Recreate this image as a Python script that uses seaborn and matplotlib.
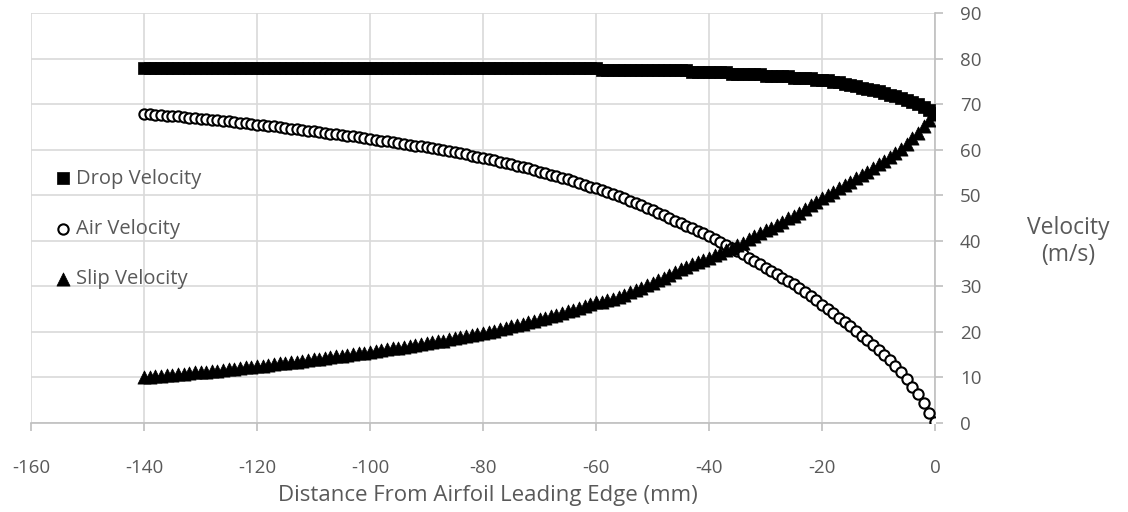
import numpy as np
import pandas as pd
import matplotlib
matplotlib.use("Agg")
import matplotlib.pyplot as plt
import seaborn as sns

# Distância ao bordo de ataque (mm), um ponto por milímetro
distance = np.arange(-140, 1)

drop_velocity = (
    [78.0] * 81 +                      # -140 .. -60
    [77.5] * 16 +                      # -59 .. -44
    [77.1] * 7 +                       # -43 .. -37
    [76.6] * 6 +                       # -36 .. -31
    [76.1] * 5 +                       # -30 .. -26
    [75.7] * 4 +                       # -25 .. -22
    [75.2] * 3 +                       # -21 .. -19
    [74.8] * 2 +                       # -18 .. -17
    [74.4, 74.2, 73.9, 73.6, 73.4, 73.1, 72.8, 72.5, 72.1, 71.8,
     71.4, 71.0, 70.5, 70.0, 69.4, 68.8, 68.1]   # -16 .. 0
)

air_velocity = [
    67.8, 67.8, 67.7, 67.6, 67.5, 67.4, 67.3, 67.2, 67.0, 66.9,
    66.8, 66.7, 66.6, 66.5, 66.3, 66.2, 66.1, 65.9, 65.8, 65.6,
    65.5, 65.4, 65.2, 65.1, 64.9, 64.8, 64.6, 64.5, 64.3, 64.2,
    64.0, 63.9, 63.7, 63.5, 63.4, 63.2, 63.1, 62.9, 62.7, 62.6,
    62.4, 62.2, 62.0, 61.8, 61.6, 61.5, 61.3, 61.1, 60.9, 60.7,
    60.5, 60.3, 60.1, 59.9, 59.6, 59.4, 59.2, 59.0, 58.7, 58.5,
    58.2, 58.0, 57.7, 57.4, 57.1, 56.8, 56.5, 56.2, 55.9, 55.6,
    55.2, 54.9, 54.5, 54.2, 53.8, 53.5, 53.1, 52.7, 52.3, 51.9,
    51.5, 51.1, 50.7, 50.2, 49.8, 49.3, 48.8, 48.3, 47.8, 47.3,
    46.8, 46.2, 45.6, 45.0, 44.4, 43.8, 43.3, 42.7, 42.2, 41.6,
    41.0, 40.4, 39.7, 39.1, 38.4, 37.8, 37.0, 36.3, 35.5, 34.8,
    34.0, 33.3, 32.6, 31.9, 31.2, 30.5, 29.6, 28.7, 27.8, 26.9,
    26.0, 25.0, 24.1, 23.1, 22.2, 21.2, 20.2, 19.2, 18.2, 17.1,
    16.0, 15.0, 13.9, 12.6, 11.2, 9.7, 8.0, 6.3, 4.3, 2.2,
    0.2,
]

slip_velocity = [
    10.2, 10.2, 10.3, 10.4, 10.5, 10.6, 10.7, 10.8, 11.0, 11.1,
    11.2, 11.3, 11.4, 11.5, 11.7, 11.8, 11.9, 12.1, 12.2, 12.4,
    12.5, 12.6, 12.8, 12.9, 13.1, 13.2, 13.4, 13.5, 13.7, 13.8,
    14.0, 14.1, 14.3, 14.5, 14.6, 14.8, 14.9, 15.1, 15.3, 15.4,
    15.6, 15.8, 16.0, 16.2, 16.4, 16.5, 16.7, 16.9, 17.1, 17.3,
    17.5, 17.7, 17.9, 18.1, 18.4, 18.6, 18.8, 19.0, 19.3, 19.5,
    19.8, 20.0, 20.3, 20.6, 20.9, 21.2, 21.5, 21.8, 22.1, 22.4,
    22.8, 23.1, 23.5, 23.8, 24.2, 24.5, 24.9, 25.3, 25.7, 26.1,
    26.5, 26.6, 26.9, 27.3, 27.7, 28.2, 28.7, 29.2, 29.7, 30.2,
    30.7, 31.3, 31.9, 32.5, 33.1, 33.7, 34.2, 34.8, 35.3, 35.8,
    36.3, 36.8, 37.4, 38.0, 38.5, 39.0, 39.6, 40.3, 41.0, 41.8,
    42.3, 42.9, 43.5, 44.2, 44.9, 45.5, 46.2, 47.0, 47.8, 48.6,
    49.3, 50.1, 50.8, 51.6, 52.3, 53.0, 53.8, 54.5, 55.2, 56.0,
    56.8, 57.5, 58.3, 59.2, 60.2, 61.3, 62.5, 63.7, 65.1, 66.5,
    67.9,
]

x_ticks = [-160, -140, -120, -100, -80, -60, -40, -20, 0]
y_ticks = [0, 10, 20, 30, 40, 50, 60, 70, 80, 90]

df = pd.DataFrame({
    'distance': distance,
    'drop': drop_velocity,
    'air': air_velocity,
    'slip': slip_velocity,
})

sns.set_theme(style='white')
plt.rcParams['font.family'] = ['Open Sans', 'DejaVu Sans']
plt.rcParams['axes.unicode_minus'] = False

grid_color = '#d9d9d9'
axis_color = '#bfbfbf'
text_color = '#595959'

fig = plt.figure(figsize=(11.28, 5.12), dpi=100)
ax = fig.add_axes([31 / 1128, 1 - 423 / 512, 904 / 1128, 410 / 512])

sns.scatterplot(data=df, x='distance', y='drop', marker='s', s=75,
                color='black', edgecolor='black', linewidth=0.5,
                label='Drop Velocity', ax=ax, zorder=3)
sns.scatterplot(data=df, x='distance', y='air', marker='o', s=55,
                facecolor='white', edgecolor='black', linewidth=1.5,
                label='Air Velocity', ax=ax, zorder=4)
sns.scatterplot(data=df, x='distance', y='slip', marker='^', s=90,
                color='black', edgecolor='black', linewidth=0.5,
                label='Slip Velocity', ax=ax, zorder=5)

ax.set_xlim(-160, 0)
ax.set_ylim(0, 90)
ax.set_xticks(x_ticks)
ax.set_yticks(y_ticks)
ax.grid(True, color=grid_color, linewidth=1.2, zorder=0)
ax.set_axisbelow(True)

ax.yaxis.tick_right()
ax.yaxis.set_label_position('right')
for side in ['top', 'left']:
    ax.spines[side].set_visible(False)
for side in ['right', 'bottom']:
    ax.spines[side].set_color(axis_color)
    ax.spines[side].set_linewidth(1.2)

ax.tick_params(axis='x', direction='out', length=6, width=1.2, color=axis_color,
               labelsize=13.5, labelcolor=text_color, pad=20, bottom=True)
ax.tick_params(axis='y', direction='out', length=6, width=1.2, color=axis_color,
               labelsize=13.5, labelcolor=text_color, pad=12, right=True, left=False)

ax.set_xlabel('Distance From Airfoil Leading Edge (mm)', fontsize=16, color=text_color,
              va='center')
ax.xaxis.set_label_coords(0.505, -0.178)
ax.set_ylabel('Velocity\n(m/s)', fontsize=16.5, color=text_color, rotation=0,
              ha='center', va='center', multialignment='center')
ax.yaxis.set_label_coords(1.147, 0.443)

leg = ax.legend(loc='upper left', bbox_to_anchor=(0.02, 0.64), frameon=False,
                fontsize=14.5, labelspacing=1.5, handlelength=0.6,
                handletextpad=0.35, borderaxespad=0)
for txt in leg.get_texts():
    txt.set_color(text_color)

plt.savefig('out.png', dpi=100)
plt.close()
